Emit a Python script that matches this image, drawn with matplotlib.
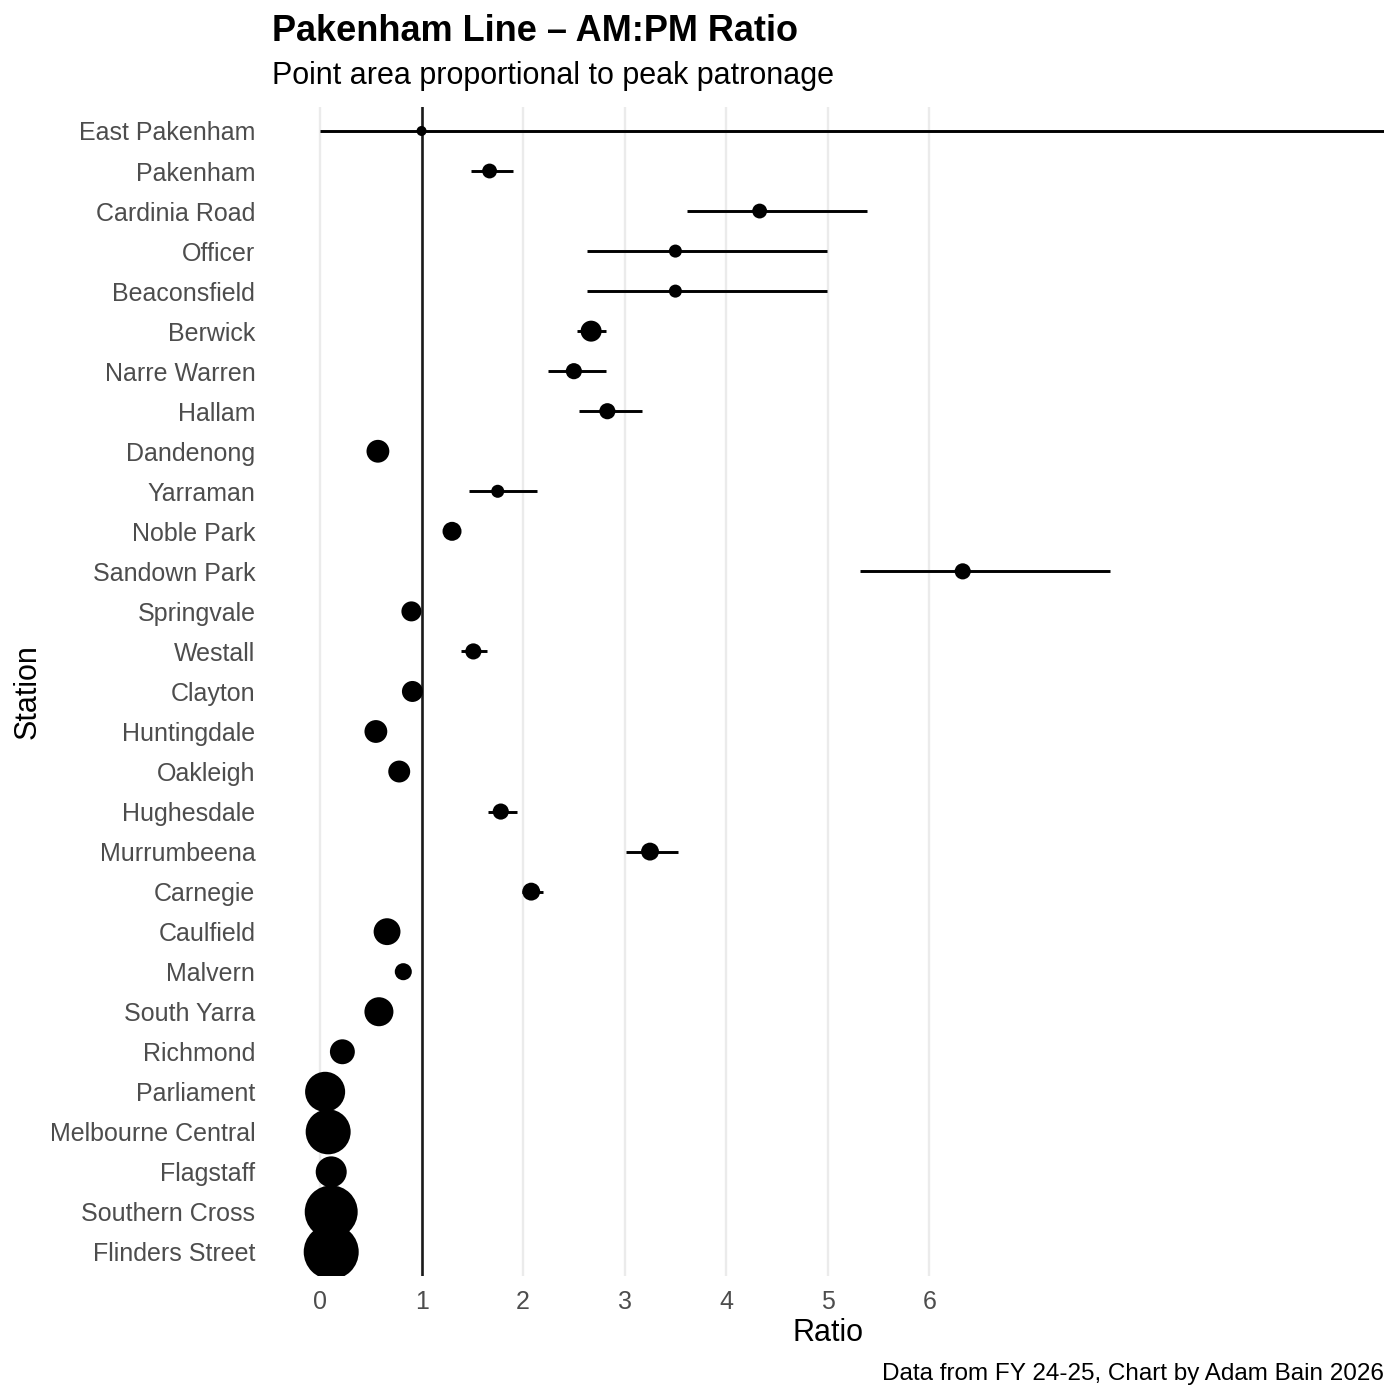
"""
Pakenham line AM:PM ratio dot plot with interval lines.
Output: out.png
"""

import numpy as np
import matplotlib.pyplot as plt

plt.rcParams["font.family"] = ["Liberation Sans", "DejaVu Sans"]

# ── Data ───────────────────────────────────────────────────────────────────
stations = [
    "East Pakenham", "Pakenham", "Cardinia Road", "Officer", "Beaconsfield",
    "Berwick", "Narre Warren", "Hallam", "Dandenong", "Yarraman",
    "Noble Park", "Sandown Park", "Springvale", "Westall", "Clayton",
    "Huntingdale", "Oakleigh", "Hughesdale", "Murrumbeena", "Carnegie",
    "Caulfield", "Malvern", "South Yarra", "Richmond", "Parliament",
    "Melbourne Central", "Flagstaff", "Southern Cross", "Flinders Street",
]
ratio = [
    1.00, 1.67, 4.33, 3.50, 3.50,
    2.67, 2.50, 2.83, 0.57, 1.75,
    1.30, 6.33, 0.90, 1.51, 0.91,
    0.55, 0.78, 1.78, 3.25, 2.08,
    0.66, 0.82, 0.58, 0.22, 0.05,
    0.08, 0.11, 0.11, 0.11,
]
ratio_lo = [
    0.00, 1.49, 3.61, 2.63, 2.63,
    2.53, 2.25, 2.55, 0.55, 1.47,
    1.28, 5.32, 0.88, 1.39, 0.89,
    0.53, 0.76, 1.65, 3.01, 1.99,
    0.64, 0.80, 0.56, 0.21, 0.05,
    0.08, 0.11, 0.11, 0.11,
]
ratio_hi = [
    12.0, 1.90, 5.39, 4.99, 4.99,
    2.82, 2.82, 3.17, 0.59, 2.14,
    1.32, 7.78, 0.92, 1.64, 0.93,
    0.57, 0.80, 1.94, 3.53, 2.20,
    0.68, 0.84, 0.60, 0.23, 0.05,
    0.08, 0.11, 0.11, 0.11,
]
peak_patronage = [
    500, 1100, 1100, 850, 850,
    2200, 1300, 1300, 2600, 850,
    1800, 1300, 2000, 1300, 2200,
    2600, 2400, 1300, 1600, 1600,
    3600, 1450, 4200, 3100, 8000,
    10100, 4800, 14000, 15100,
]
x_breaks = [0, 1, 2, 3, 4, 5, 6]

# ── Figure ─────────────────────────────────────────────────────────────────
fig = plt.figure(figsize=(14, 14), dpi=100)
ax = fig.add_axes([0.1943, 0.0886, 0.9886 - 0.1943, 0.9236 - 0.0886])

n = len(stations)
y = np.arange(n)

ax.set_xlim(-0.473, 10.48)
ax.set_ylim(n - 1 + 0.6, -0.6)

for xb in x_breaks:
    ax.axvline(xb, color="#EBEBEB", linewidth=1.7, zorder=0)
ax.axvline(1, color="#1A1A1A", linewidth=1.9, zorder=1)

ax.hlines(y, ratio_lo, ratio_hi, color="black", linewidth=2.1, zorder=2)

# point area proportional to patronage, largest ~55 px across
max_d_pt = 55 * 0.72
sizes = np.array(peak_patronage) / max(peak_patronage) * max_d_pt ** 2
ax.scatter(ratio, y, s=sizes, color="black", edgecolors="none", zorder=3)

ax.set_xticks(x_breaks)
ax.set_yticks(y)
ax.set_yticklabels(stations)
ax.tick_params(axis="both", length=0, labelsize=18, labelcolor="#4D4D4D")
ax.tick_params(axis="y", pad=12)
ax.tick_params(axis="x", pad=10)
for s in ax.spines.values():
    s.set_visible(False)

ax.set_xlabel("Ratio", fontsize=22)
ax.set_ylabel("Station", fontsize=22)
ax.xaxis.set_label_coords(0.5, -0.0488)
ax.yaxis.set_label_coords(-0.2194, 0.5)
ax.xaxis.label.set_va("center")
ax.yaxis.label.set_va("center")

fig.text(0.1943, 1 - 41 / 1400, "Pakenham Line \u2013 AM:PM Ratio",
         fontsize=26, fontweight="bold", ha="left", va="baseline")
fig.text(0.1943, 1 - 84 / 1400, "Point area proportional to peak patronage",
         fontsize=22, ha="left", va="baseline")
fig.text(0.9886, 1 - 1380 / 1400, "Data from FY 24-25, Chart by Adam Bain 2026",
         fontsize=17.5, ha="right", va="baseline")

fig.savefig("out.png", dpi=100, facecolor="white")
plt.close(fig)
